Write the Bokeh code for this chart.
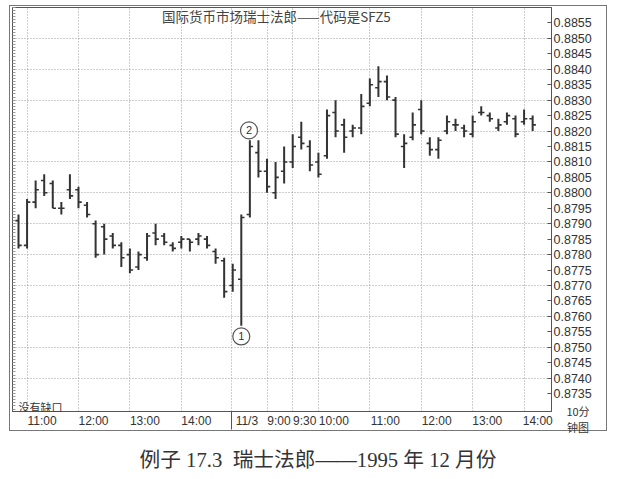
from bokeh.plotting import figure
from bokeh.models import (Range1d, FixedTicker, Label, Div, ColumnDataSource,
                          PrintfTickFormatter, LinearAxis)
from bokeh.layouts import column
from bokeh.embed import file_html
from bokeh.resources import INLINE
from bokeh.core.properties import value

# ---------------- data ----------------
title_text = "国际货币市场瑞士法郎——代码是SFZ5"
caption_text = "例子 17.3  瑞士法郎——1995 年 12 月份"
note_text = "没有缺口"
interval_text = ["10分", "钟图"]

time_labels = ["11:00", "12:00", "13:00", "14:00", "11/3", "9:00", "9:30",
               "10:00", "11:00", "12:00", "13:00", "14:00"]

price_ticks = [0.8735, 0.8740, 0.8745, 0.8750, 0.8755, 0.8760, 0.8765, 0.8770,
               0.8775, 0.8780, 0.8785, 0.8790, 0.8795, 0.8800, 0.8805, 0.8810,
               0.8815, 0.8820, 0.8825, 0.8830, 0.8835, 0.8840, 0.8845, 0.8850,
               0.8855]

opens = [0.8791, 0.8783, 0.8797, 0.8804, 0.8803, 0.8795, 0.8801, 0.8801, 0.8796, 0.8790,
         0.8789, 0.8786, 0.8783, 0.8780, 0.8776, 0.8779, 0.8787, 0.8786, 0.8783, 0.8784,
         0.8785, 0.8785, 0.8785, 0.8781, 0.8778, 0.8770, 0.8772, 0.8793, 0.8813, 0.8807,
         0.8800, 0.8807, 0.8810, 0.8818, 0.8815, 0.8810, 0.8812, 0.8826, 0.8822, 0.8820,
         0.8821, 0.8829, 0.8834, 0.8836, 0.8830, 0.8815, 0.8818, 0.8827, 0.8816, 0.8814,
         0.8820, 0.8822, 0.8821, 0.8819, 0.8826, 0.8825, 0.8821, 0.8823, 0.8824, 0.8823,
         0.8824]
highs = [0.8793, 0.8798, 0.8804, 0.8806, 0.8804, 0.8797, 0.8806, 0.8802, 0.8797, 0.8791,
         0.8790, 0.8787, 0.8784, 0.8782, 0.8781, 0.8787, 0.8790, 0.8787, 0.8784, 0.8786,
         0.8785, 0.8787, 0.8786, 0.8782, 0.8779, 0.8777, 0.8793, 0.8817, 0.8817, 0.8811,
         0.8810, 0.8815, 0.8819, 0.8823, 0.8817, 0.8813, 0.8827, 0.8830, 0.8824, 0.8822,
         0.8832, 0.8837, 0.8841, 0.8838, 0.8831, 0.8819, 0.8826, 0.8830, 0.8818, 0.8818,
         0.8825, 0.8824, 0.8822, 0.8825, 0.8828, 0.8826, 0.8824, 0.8826, 0.8825, 0.8827,
         0.8825]
lows = [0.8782, 0.8782, 0.8795, 0.8799, 0.8795, 0.8793, 0.8798, 0.8795, 0.8792, 0.8779,
        0.8780, 0.8782, 0.8776, 0.8774, 0.8775, 0.8778, 0.8783, 0.8783, 0.8781, 0.8782,
        0.8781, 0.8783, 0.8782, 0.8777, 0.8766, 0.8768, 0.8757, 0.8792, 0.8805, 0.8800,
        0.8798, 0.8803, 0.8808, 0.8814, 0.8807, 0.8805, 0.8811, 0.8818, 0.8813, 0.8818,
        0.8819, 0.8828, 0.8831, 0.8830, 0.8818, 0.8808, 0.8817, 0.8819, 0.8812, 0.8811,
        0.8819, 0.8820, 0.8818, 0.8818, 0.8825, 0.8823, 0.8820, 0.8822, 0.8818, 0.8822,
        0.8820]
closes = [0.8783, 0.8797, 0.8801, 0.8800, 0.8795, 0.8795, 0.8799, 0.8797, 0.8793, 0.8780,
          0.8785, 0.8783, 0.8779, 0.8775, 0.8780, 0.8786, 0.8785, 0.8784, 0.8782, 0.8785,
          0.8784, 0.8786, 0.8783, 0.8779, 0.8768, 0.8775, 0.8792, 0.8815, 0.8807, 0.8802,
          0.8805, 0.8810, 0.8815, 0.8816, 0.8809, 0.8806, 0.8825, 0.8820, 0.8818, 0.8821,
          0.8828, 0.8835, 0.8836, 0.8831, 0.8819, 0.8816, 0.8822, 0.8820, 0.8814, 0.8817,
          0.8823, 0.8822, 0.8820, 0.8823, 0.8826, 0.8824, 0.8822, 0.8825, 0.8819, 0.8824,
          0.8822]

marker_texts = ["1", "2"]
marker_x = [26.0, 26.9]
marker_prices = [0.87535, 0.88202]

# ---------------- layout constants ----------------
grid_pos = [1, 7, 13, 19, 24.9, 29, 32, 35, 41, 47, 53, 59]
label_pos = [2.75, 8.75, 14.75, 20.75, 26.65, 30.4, 33.4, 36.8, 42.8, 48.8, 54.7, 60.6]
day_break = 24.9
left_ticks = [round(0.8730 + 0.0001 * k, 4) for k in range(131)]

INK = "#333333"
FONT = "Liberation Sans"
CJK = "Noto Sans CJK SC"

n = len(opens)
xs = list(range(n))
tick = 0.38
src = ColumnDataSource(dict(
    x=xs, xl=[x - tick for x in xs], xr=[x + tick for x in xs],
    o=opens, h=highs, l=lows, c=closes))

p = figure(width=596, height=424, output_backend="svg", toolbar_location=None,
           x_range=Range1d(-0.7, 62.2), y_range=Range1d(0.87292, 0.88600),
           y_axis_location="right",
           min_border_left=2, min_border_right=55, min_border_top=1,
           min_border_bottom=18)
p.styles = {"outline": "1px solid #777", "outline-offset": "0px"}
p.background_fill_color = "white"
p.border_fill_color = "white"
p.outline_line_color = "#555555"

# y axis (right) -- grab it before adding the left tick axis
ya = p.yaxis[0]
ya.ticker = FixedTicker(ticks=price_ticks)
ya.formatter = PrintfTickFormatter(format="%.4f")
ya.major_label_text_font = FONT
ya.major_label_text_font_size = "12.5px"
ya.major_label_text_color = INK
ya.major_tick_in = 4
ya.major_tick_out = 0
ya.minor_tick_line_color = None
ya.major_label_standoff = 2
ya.axis_line_color = "#555555"
ya.major_tick_line_color = "#555555"

# faint inward ticks along the left edge (minor ticks only, no labels)
la = LinearAxis(ticker=FixedTicker(ticks=[], minor_ticks=left_ticks),
                major_tick_in=0, major_tick_out=0, minor_tick_in=3, minor_tick_out=0,
                minor_tick_line_color="#999999", major_label_standoff=0,
                axis_line_color="#555555")
p.add_layout(la, "left")

# bars
p.segment(x0="x", y0="h", x1="x", y1="l", source=src, line_color=INK, line_width=2)
p.segment(x0="xl", y0="o", x1="x", y1="o", source=src, line_color=INK, line_width=1.6)
p.segment(x0="x", y0="c", x1="xr", y1="c", source=src, line_color=INK, line_width=1.6)

# x axis
xa = p.xaxis[0]
xa.ticker = FixedTicker(ticks=label_pos, minor_ticks=[day_break])
xa.major_label_overrides = {pos: lab for pos, lab in zip(label_pos, time_labels)}
xa.major_tick_line_color = None
xa.major_tick_out = 0
xa.major_tick_in = 0
xa.minor_tick_in = 0
xa.minor_tick_out = 18
xa.minor_tick_line_color = "#555555"
xa.major_label_text_font = FONT
xa.major_label_text_font_size = "12px"
xa.major_label_text_color = INK
xa.major_label_standoff = -16
xa.axis_line_color = "#555555"

# grids
p.xgrid.ticker = FixedTicker(ticks=grid_pos)
p.ygrid.ticker = FixedTicker(ticks=price_ticks[1::2])
for g in (p.xgrid[0], p.ygrid[0]):
    g.grid_line_color = "#9a9a9a"
    g.grid_line_dash = "1 2"
    g.grid_line_width = 1

# circled markers
p.scatter(x=marker_x, y=marker_prices, marker="circle", size=17,
          fill_color="white", line_color="#555555", line_width=1.2)
p.text(x=marker_x, y=marker_prices, text=marker_texts,
       text_align="center", text_baseline="middle", text_color=INK,
       text_font=value(FONT), text_font_size="11px")

# texts
p.add_layout(Label(x=30.1, y=0.88572, text=title_text, text_align="center",
                   text_baseline="middle", text_font=CJK, text_font_size="13.5px",
                   text_color="#444444"))
p.add_layout(Label(x=0.0, y=0.87305, text=note_text, text_align="left",
                   text_baseline="middle", text_font=CJK, text_font_size="11px",
                   text_color=INK))

cap = Div(text=('<div style="position:relative;width:596px;height:45px;">'
                '<div style="position:absolute;left:541px;top:-32px;width:44px;'
                'text-align:center;line-height:16px;'
                "font-family:'Noto Sans CJK SC',sans-serif;font-size:11px;color:#333;\">"
                + interval_text[0] + '<br>' + interval_text[1] + '</div>'
                '<div style="position:absolute;left:0;top:13px;width:596px;'
                'box-sizing:border-box;padding-left:10px;text-align:center;'
                "white-space:pre;line-height:24px;"
                "font-family:'Liberation Serif','Noto Sans CJK SC',serif;"
                'font-size:20.7px;color:#333;">' + caption_text + '</div></div>'),
          width=596, height=45)

layout = column(p, cap, margin=(6, 0, 0, 10))
open("out.html", "w").write(file_html(layout, INLINE))
